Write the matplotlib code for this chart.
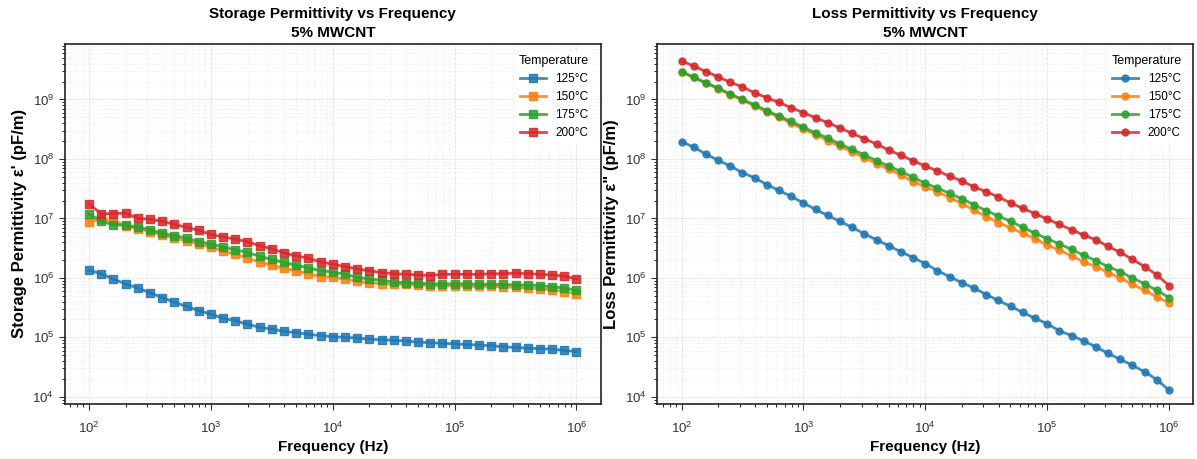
import numpy as np
import matplotlib
matplotlib.use("Agg")
import matplotlib.pyplot as plt

plt.rcParams['font.family'] = ['Liberation Sans', 'DejaVu Sans']

# frequency sweep, 10 points per decade from 100 Hz to 1 MHz
freq = np.logspace(2, 6, 41)

temps = ["125°C", "150°C", "175°C", "200°C"]
colors = ["#1f77b4", "#ff7f0e", "#2ca02c", "#d62728"]

# values, stored as log10(pF/m)
storage_125 = [6.13, 6.07, 5.98, 5.90, 5.83, 5.75, 5.67, 5.59, 5.52, 5.45, 5.39,
               5.32, 5.28, 5.22, 5.17, 5.14, 5.10, 5.08, 5.05, 5.03, 5.01, 5.00,
               4.99, 4.97, 4.96, 4.95, 4.94, 4.92, 4.91, 4.90, 4.89, 4.88, 4.87,
               4.86, 4.84, 4.83, 4.82, 4.81, 4.80, 4.78, 4.76]
storage_150 = [6.94, 6.99, 6.96, 6.88, 6.83, 6.78, 6.72, 6.67, 6.62, 6.57, 6.52,
               6.45, 6.40, 6.33, 6.27, 6.21, 6.16, 6.12, 6.07, 6.02, 6.01, 5.98,
               5.94, 5.92, 5.90, 5.89, 5.89, 5.88, 5.87, 5.87, 5.87, 5.86, 5.86,
               5.86, 5.85, 5.84, 5.83, 5.82, 5.80, 5.77, 5.73]
storage_175 = [7.07, 6.96, 6.89, 6.89, 6.85, 6.81, 6.75, 6.71, 6.67, 6.61, 6.57,
               6.52, 6.47, 6.43, 6.36, 6.31, 6.26, 6.21, 6.17, 6.12, 6.10, 6.06,
               6.01, 5.98, 5.96, 5.93, 5.92, 5.91, 5.90, 5.90, 5.90, 5.90, 5.89,
               5.89, 5.89, 5.88, 5.88, 5.87, 5.85, 5.83, 5.79]
storage_200 = [7.24, 7.08, 7.08, 7.09, 7.00, 6.99, 6.95, 6.90, 6.85, 6.80, 6.73,
               6.69, 6.65, 6.61, 6.54, 6.49, 6.42, 6.37, 6.33, 6.27, 6.23, 6.19,
               6.15, 6.12, 6.09, 6.07, 6.06, 6.05, 6.04, 6.06, 6.06, 6.06, 6.06,
               6.07, 6.07, 6.08, 6.07, 6.06, 6.05, 6.03, 5.98]

loss_125 = [8.29, 8.20, 8.08, 7.98, 7.88, 7.77, 7.68, 7.57, 7.47, 7.37, 7.26,
            7.15, 7.05, 6.95, 6.85, 6.74, 6.64, 6.54, 6.44, 6.34, 6.24, 6.12,
            6.02, 5.92, 5.83, 5.72, 5.62, 5.52, 5.42, 5.32, 5.23, 5.11, 5.03,
            4.94, 4.84, 4.73, 4.63, 4.53, 4.42, 4.29, 4.11]
loss_150 = [9.47, 9.37, 9.28, 9.18, 9.08, 8.99, 8.89, 8.79, 8.70, 8.60, 8.50,
            8.41, 8.31, 8.21, 8.12, 8.02, 7.92, 7.83, 7.73, 7.62, 7.53, 7.45,
            7.35, 7.25, 7.14, 7.03, 6.93, 6.84, 6.75, 6.66, 6.55, 6.47, 6.37,
            6.27, 6.19, 6.09, 6.00, 5.89, 5.79, 5.68, 5.58]
loss_175 = [9.47, 9.37, 9.28, 9.19, 9.09, 9.00, 8.91, 8.81, 8.72, 8.63, 8.53,
            8.44, 8.35, 8.25, 8.16, 8.07, 7.97, 7.88, 7.79, 7.69, 7.59, 7.51,
            7.42, 7.33, 7.23, 7.13, 7.04, 6.95, 6.85, 6.75, 6.66, 6.57, 6.48,
            6.38, 6.29, 6.19, 6.10, 6.00, 5.90, 5.79, 5.67]
loss_200 = [9.65, 9.56, 9.47, 9.38, 9.29, 9.21, 9.11, 9.03, 8.95, 8.86, 8.78,
            8.69, 8.61, 8.52, 8.43, 8.34, 8.25, 8.15, 8.06, 7.97, 7.88, 7.80,
            7.71, 7.63, 7.53, 7.45, 7.36, 7.26, 7.17, 7.08, 6.99, 6.90, 6.81,
            6.72, 6.64, 6.53, 6.43, 6.31, 6.19, 6.05, 5.87]

storage = [storage_125, storage_150, storage_175, storage_200]
loss = [loss_125, loss_150, loss_175, loss_200]

fig, axes = plt.subplots(1, 2, figsize=(11.97, 4.59), dpi=100)
fig.subplots_adjust(left=0.054, right=0.997, bottom=0.12, top=0.905, wspace=0.105)


def style_axis(ax, ylabel, title):
    ax.set_xscale('log')
    ax.set_yscale('log')
    ax.set_ylim(7.6e3, 8.7e9)
    ax.set_title(title, fontsize=11, fontweight='bold', linespacing=1.4, pad=5)
    ax.set_xlabel("Frequency (Hz)", fontsize=11, fontweight='bold', labelpad=3)
    ax.set_ylabel(ylabel, fontsize=12, fontweight='bold', labelpad=4)
    ax.grid(True, which='major', linestyle='--', linewidth=0.6, color='#cccccc', alpha=0.6)
    ax.grid(True, which='minor', linestyle=':', linewidth=0.5, color='#cccccc', alpha=0.5)
    ax.tick_params(axis='both', which='major', labelsize=9.5, colors='#333333', length=4)
    ax.tick_params(axis='x', which='major', pad=8)
    ax.tick_params(axis='both', which='minor', length=2.5)
    for sp in ax.spines.values():
        sp.set_linewidth(1.2)
        sp.set_color('#222222')
    leg = ax.legend(title="Temperature", loc='upper right', fontsize=8.5,
                    title_fontsize=9, frameon=True, framealpha=0.85,
                    edgecolor='white', handlelength=2.2, borderaxespad=0.6)
    leg.get_frame().set_linewidth(0)


ax = axes[0]
for name, vals, c in zip(temps, storage, colors):
    ax.plot(freq, 10 ** np.array(vals), marker='s', markersize=5.5, linewidth=2,
            color=c, alpha=0.85, label=name)
style_axis(ax, "Storage Permittivity ε' (pF/m)",
           "Storage Permittivity vs Frequency\n5% MWCNT")

ax = axes[1]
for name, vals, c in zip(temps, loss, colors):
    ax.plot(freq, 10 ** np.array(vals), marker='o', markersize=5, linewidth=2,
            color=c, alpha=0.85, label=name)
style_axis(ax, 'Loss Permittivity ε" (pF/m)',
           "Loss Permittivity vs Frequency\n5% MWCNT")

fig.savefig("out.png", dpi=100)
